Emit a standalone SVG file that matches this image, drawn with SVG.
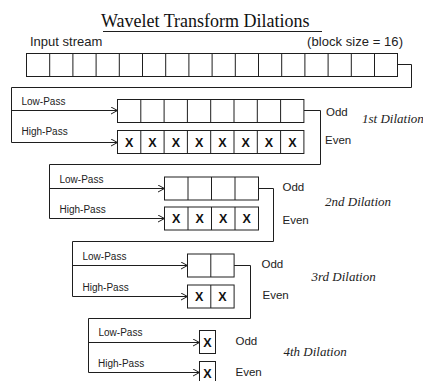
<svg xmlns="http://www.w3.org/2000/svg" width="423" height="381" viewBox="0 0 423 381">
  <style>
    .bg { fill: #ffffff; }
    .cell { fill: #ffffff; stroke: #1e1e1e; stroke-width: 1; }
    .div { stroke: #1e1e1e; stroke-width: 1; }
    .wire { fill: none; stroke: #1e1e1e; stroke-width: 1; }
    .title { font-family: "Liberation Serif", "Times New Roman", serif; font-size: 18px; fill: #111; }
    .label { font-family: "Liberation Sans", Arial, sans-serif; font-size: 13px; fill: #222; }
    .pass { font-family: "Liberation Sans", Arial, sans-serif; font-size: 10px; fill: #222; }
    .side { font-family: "Liberation Sans", Arial, sans-serif; font-size: 11.5px; fill: #222; }
    .stage { font-family: "Liberation Serif", "Times New Roman", serif; font-style: italic; font-size: 13px; fill: #222; }
    .x { font-family: "Liberation Sans", Arial, sans-serif; font-weight: bold; font-size: 12.5px; fill: #111; text-anchor: middle; }
  </style>
  <defs>
    <marker id="chev" markerUnits="userSpaceOnUse" markerWidth="8" markerHeight="8" refX="7" refY="4" orient="auto">
      <path d="M0.5,0.5 L7,4 L0.5,7.5" fill="none" stroke="#1e1e1e" stroke-width="1"/>
    </marker>
  </defs>

  <rect class="bg" x="0" y="0" width="423" height="381"/>

  <!-- heading -->
  <g id="title">
    <text class="title" x="101" y="27">Wavelet Transform Dilations</text>
    <line class="div" x1="103" y1="31.5" x2="322" y2="31.5"/>
  </g>

  <!-- sixteen-sample input block -->
  <g id="input-stream">
    <text class="label" x="30" y="46">Input stream</text>
    <text class="label" x="307" y="46" textLength="96">(block size = 16)</text>
    <rect class="cell" x="26.5" y="53.5" width="371" height="23"/>
    <path class="div" d="M49.7,53.5V76.5 M72.9,53.5V76.5 M96.1,53.5V76.5 M119.3,53.5V76.5 M142.5,53.5V76.5 M165.7,53.5V76.5 M188.9,53.5V76.5 M212.1,53.5V76.5 M235.3,53.5V76.5 M258.5,53.5V76.5 M281.7,53.5V76.5 M304.9,53.5V76.5 M328.1,53.5V76.5 M351.3,53.5V76.5 M374.5,53.5V76.5"/>
  </g>

  <!-- connectors between stages -->
  <g id="connectors">
    <path class="wire" d="M397.5,64.5H411.5V87.5H11.5V142.5H117.5" marker-end="url(#chev)"/>
    <path class="wire" d="M11.5,110.5H117.5" marker-end="url(#chev)"/>
    <path class="wire" d="M304,110.5H320.5V164.5H49.5V218.5H164.5" marker-end="url(#chev)"/>
    <path class="wire" d="M49.5,188.5H164.5" marker-end="url(#chev)"/>
    <path class="wire" d="M258.5,188.5H273.5V241.5H72.5V296.5H187.5" marker-end="url(#chev)"/>
    <path class="wire" d="M72.5,265.5H187.5" marker-end="url(#chev)"/>
    <path class="wire" d="M234,265.5H250.5V318.5H88.5V372.5H199.5" marker-end="url(#chev)"/>
    <path class="wire" d="M88.5,342.5H199.5" marker-end="url(#chev)"/>
  </g>

  <!-- stage 1: 8 + 8 -->
  <g id="dilation-1">
    <text class="pass" x="21.5" y="105">Low-Pass</text>
    <text class="pass" x="21.5" y="134.5">High-Pass</text>
    <rect class="cell" x="117.5" y="99.5" width="186.4" height="23"/>
    <path class="div" d="M140.8,99.5V122.5 M164.1,99.5V122.5 M187.4,99.5V122.5 M210.7,99.5V122.5 M234,99.5V122.5 M257.3,99.5V122.5 M280.6,99.5V122.5"/>
    <rect class="cell" x="117.5" y="130.5" width="186.4" height="23"/>
    <path class="div" d="M140.8,130.5V153.5 M164.1,130.5V153.5 M187.4,130.5V153.5 M210.7,130.5V153.5 M234,130.5V153.5 M257.3,130.5V153.5 M280.6,130.5V153.5"/>
    <text class="x" x="129.2" y="146.5">X</text>
    <text class="x" x="152.5" y="146.5">X</text>
    <text class="x" x="175.8" y="146.5">X</text>
    <text class="x" x="199.1" y="146.5">X</text>
    <text class="x" x="222.4" y="146.5">X</text>
    <text class="x" x="245.7" y="146.5">X</text>
    <text class="x" x="269" y="146.5">X</text>
    <text class="x" x="292.3" y="146.5">X</text>
    <text class="side" x="326" y="115.5">Odd</text>
    <text class="side" x="325" y="144">Even</text>
    <text class="stage" x="362" y="123">1st Dilation</text>
  </g>

  <!-- stage 2: 4 + 4 -->
  <g id="dilation-2">
    <text class="pass" x="59.5" y="182.5">Low-Pass</text>
    <text class="pass" x="59.5" y="212.5">High-Pass</text>
    <rect class="cell" x="164.5" y="177" width="94" height="23"/>
    <path class="div" d="M188,177V200 M211.5,177V200 M235,177V200"/>
    <rect class="cell" x="164.5" y="207" width="94" height="23"/>
    <path class="div" d="M188,207V230 M211.5,207V230 M235,207V230"/>
    <text class="x" x="176.2" y="223">X</text>
    <text class="x" x="199.7" y="223">X</text>
    <text class="x" x="223.2" y="223">X</text>
    <text class="x" x="246.7" y="223">X</text>
    <text class="side" x="282.5" y="190.5">Odd</text>
    <text class="side" x="282.5" y="223.5">Even</text>
    <text class="stage" x="325" y="206">2nd Dilation</text>
  </g>

  <!-- stage 3: 2 + 2 -->
  <g id="dilation-3">
    <text class="pass" x="82.5" y="259.5">Low-Pass</text>
    <text class="pass" x="82.5" y="290.5">High-Pass</text>
    <rect class="cell" x="187.5" y="254" width="46.6" height="23"/>
    <path class="div" d="M210.8,254V277"/>
    <rect class="cell" x="187.5" y="285" width="46.6" height="23"/>
    <path class="div" d="M210.8,285V308"/>
    <text class="x" x="199.2" y="301">X</text>
    <text class="x" x="222.5" y="301">X</text>
    <text class="side" x="261.5" y="267.5">Odd</text>
    <text class="side" x="262.5" y="298.5">Even</text>
    <text class="stage" x="311.5" y="281">3rd Dilation</text>
  </g>

  <!-- stage 4: 1 + 1 -->
  <g id="dilation-4">
    <text class="pass" x="98.5" y="336">Low-Pass</text>
    <text class="pass" x="98" y="366.5">High-Pass</text>
    <rect class="cell" x="199.5" y="330.5" width="16" height="23"/>
    <rect class="cell" x="199.5" y="361.5" width="16" height="23"/>
    <text class="x" x="207.5" y="346.5">X</text>
    <text class="x" x="207.5" y="377.5">X</text>
    <text class="side" x="235.5" y="344.5">Odd</text>
    <text class="side" x="235.5" y="375.5">Even</text>
    <text class="stage" x="283.5" y="356">4th Dilation</text>
  </g>
</svg>
